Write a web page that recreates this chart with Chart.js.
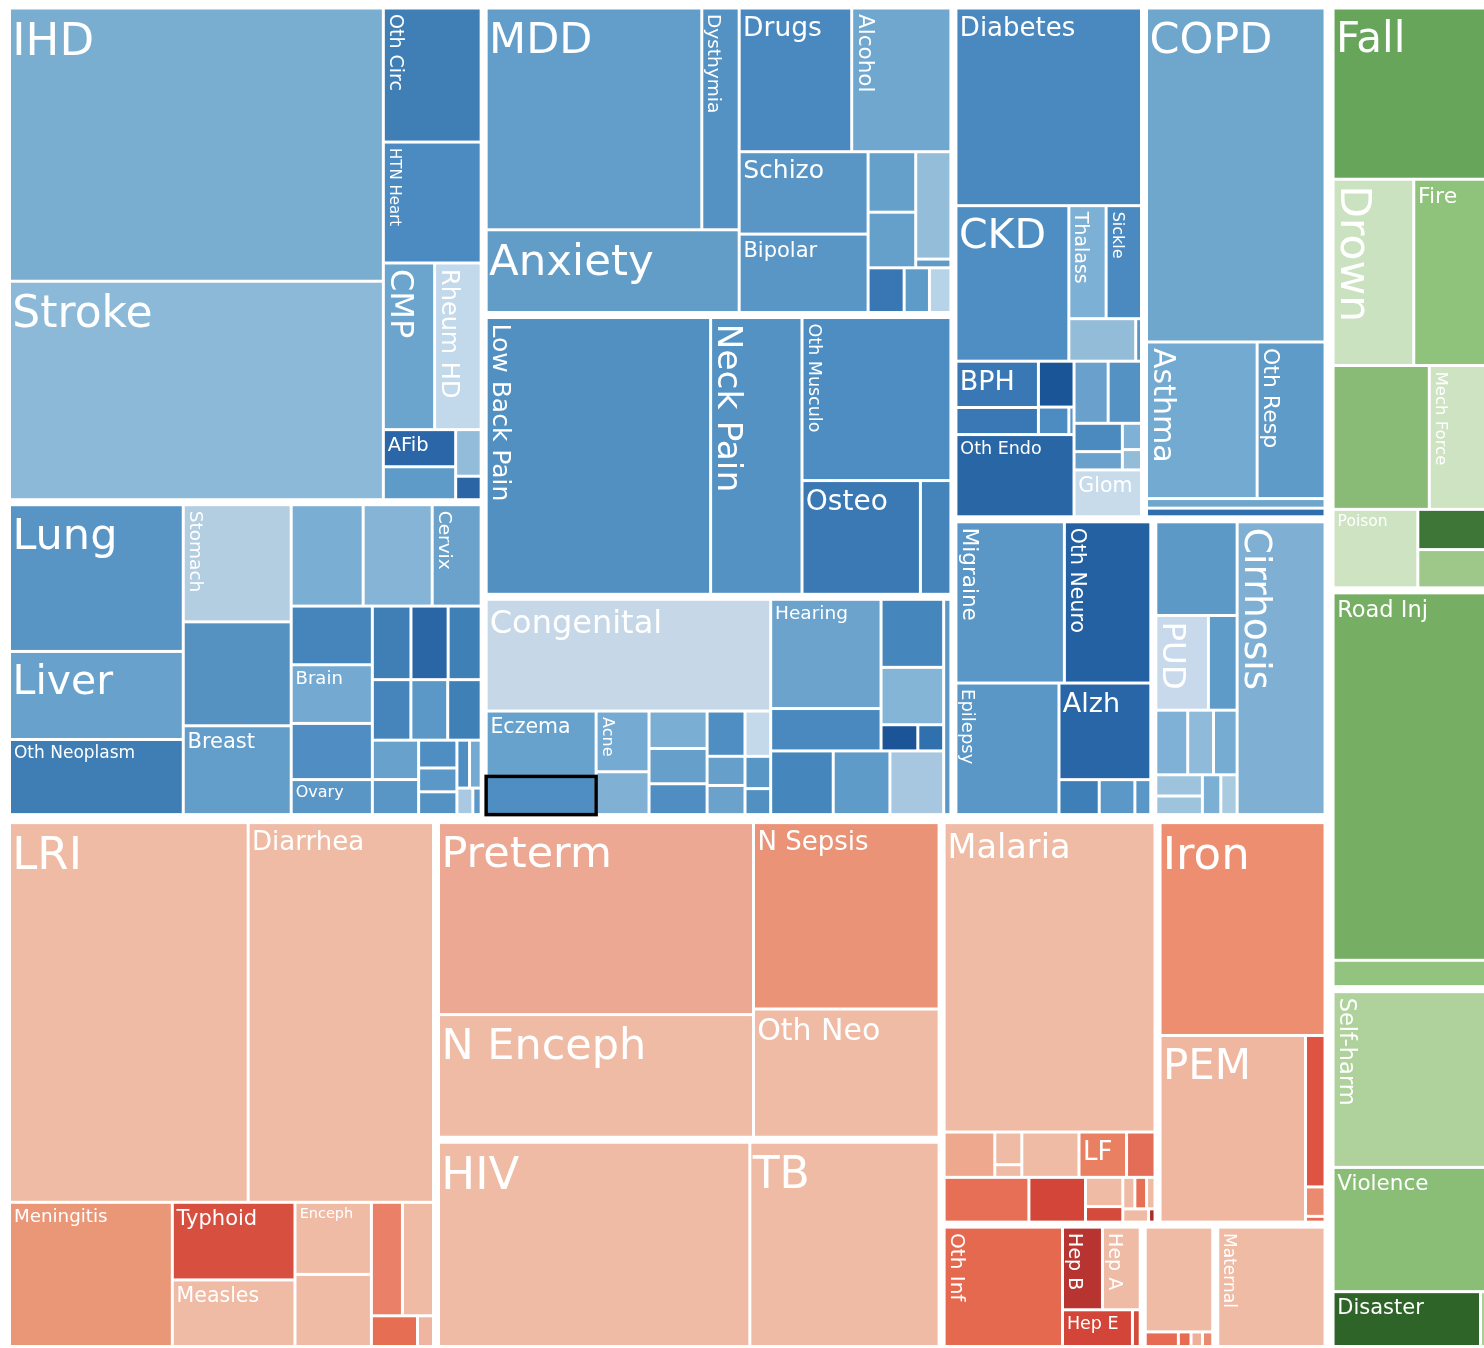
<!DOCTYPE html>
<html>
<head>
<meta charset="utf-8">
<title>Burden treemap</title>
<script src="https://cdn.jsdelivr.net/npm/chart.js@4.4.1/dist/chart.umd.min.js"></script>
<style>
  html, body { margin: 0; padding: 0; background: #fff; overflow: hidden; }
  #chart { display: block; }
</style>
</head>
<body>
<canvas id="chart" width="1510" height="1352"></canvas>
<script>
// ---- cause data: one set of arrays per cause group ----
// tiles: nested splits ('x' = side by side, 'y' = stacked) over leaf indices

// Non-communicable
const cardioNames  = ['IHD', 'Stroke', 'Oth Circ', 'HTN Heart', 'CMP', 'Rheum HD', 'AFib', '', '', ''];
const cardioValues = [1058, 846, 135.8, 122.5, 88.5, 80.3, 27.8, 24.7, 12.3, 6.2];
const cardioColors = ['#79aed1', '#8bb9d7', '#3f7fb6', '#4c8bc1', '#6ba4cd', '#c2d8eb', '#2a66a8', '#5e9bc9', '#93bcda', '#2b65a6'];
const cardioTiles  = ['x', ['y', 0, 1], ['y', 2, 3, ['x', 4, 5], ['x', ['y', 6, 7], ['y', 8, 9]]]];

const neoNames  = ['Lung', 'Liver', 'Oth Neoplasm', 'Stomach', '', 'Breast', '', '', 'Cervix', '', 'Brain', '', 'Ovary',
                   '', '', '', '', '', '', '', '', '', '', '', '', '', '', ''];
const neoValues = [265.6, 159.4, 136, 131.7, 116.9, 99.9, 76, 72.9, 51.7, 49.6, 49.6, 47.5, 29.6,
                   29.6, 28.5, 25.3, 24.3, 23.2, 21.1, 19, 16.9, 11.1, 9.5, 9.1, 6.3, 5.8, 4.4, 2.3];
const neoColors = ['#5895c4', '#67a1cc', '#3e7eb5', '#b3cde1', '#5592c1', '#639dca', '#7aaed3', '#85b4d6', '#6aa2cc',
                   '#4585bb', '#74aad2', '#4f8dc3', '#5995c5',
                   '#3f7fb6', '#2a66a5', '#3f80b7', '#4585bb', '#5c98c7', '#3f80b7', '#68a1cc', '#5995c5',
                   '#4f8ec3', '#5c98c7', '#5592c4', '#4f8ec3', '#74aad1', '#a9c9e2', '#5c98c7'];
const neoTiles  = ['x', ['y', 0, 1, 2], ['y', 3, 4, 5],
                   ['y', ['x', 6, 7, 8],
                         ['x', ['y', 9, 10, 11, 12],
                               ['y', ['x', 13, 14, 15], ['x', 16, 17, 18],
                                     ['x', ['y', 19, 20], ['y', 21, 22, 23], ['y', ['x', 24, 25], ['x', 26, 27]]]]]]];

const mentalNames  = ['MDD', 'Dysthymia', 'Anxiety', 'Drugs', 'Alcohol', 'Schizo', 'Bipolar', '', '', '', '', '', '', ''];
const mentalValues = [498.5, 86.4, 218.2, 168.6, 148.6, 110.7, 105.4, 30, 27.6, 39.4, 3.2, 16.8, 11.8, 10];
const mentalColors = ['#629ec9', '#5592c4', '#629dc8', '#4a89bf', '#6fa7cf', '#5996c6', '#5996c6',
                      '#64a0ca', '#64a0ca', '#93bdd9', '#5f9bc8', '#3877b3', '#5f9bc8', '#b7d3e7'];
const mentalTiles  = ['x', ['y', ['x', 0, 1], 2],
                           ['y', ['x', 3, 4], ['x', ['y', 5, 6], ['y', ['x', ['y', 7, 8], ['y', 9, 10]], ['x', 11, 12, 13]]]]];

const muscNames  = ['Low Back Pain', 'Neck Pain', 'Oth Musculo', 'Osteo', ''];
const muscValues = [648.6, 264.1, 253.5, 140.6, 36.2];
const muscColors = ['#5290c2', '#5592c4', '#4e8dc2', '#3a79b4', '#4484bb'];
const muscTiles  = ['x', 0, 1, ['y', 2, ['x', 3, 4]]];

const otherNcdNames  = ['Congenital', 'Eczema', '', 'Acne', '', '', '', '', '', '', '', '', '', '',
                        'Hearing', '', '', '', '', '', '', '', '', ''];
const otherNcdValues = [333.6, 75.4, 44.1, 33.7, 23.8, 22.8, 21.5, 18.8, 18, 11.6, 11.6, 12.2, 8.7, 7,
                        126.5, 49.1, 44.7, 37.7, 10.1, 7.1, 41.8, 37.9, 35.9, 16.4];
const otherNcdColors = ['#c6d7e8', '#67a2cc', '#4f8ec3', '#75abd2', '#80b1d5', '#7aaed3', '#659fca', '#4f8dc2',
                        '#4f8ec3', '#659fca', '#6aa2cc', '#c4d9ea', '#5896c6', '#5290c2',
                        '#6ba3cc', '#4a89bf', '#4587bd', '#84b4d6', '#1b5597', '#3070ad', '#4587bd', '#5f9bc8', '#a6c7df', '#5c98c7'];
const otherNcdTiles  = ['x', ['y', 0, ['x', ['y', 1, 2], ['y', 3, 4], ['y', 5, 6, 7], ['y', 8, 9, 10], ['y', 11, 12, 13]]],
                             ['y', ['x', ['y', 14, 15], ['y', 16, 17, ['x', 18, 19]]], ['x', 20, 21, 22]],
                             23];

const diabNames  = ['Diabetes', 'CKD', 'Thalass', 'Sickle', '', '', 'BPH', '', '', '', '', 'Oth Endo', '', '', '', '', '', '', 'Glom'];
const diabValues = [386, 184.8, 44.3, 42.1, 29.9, 2.6, 40.2, 23.5, 17.2, 8.8, 1.5, 102.2, 22.3, 21.8, 14.4, 9.3, 5.3, 4.1, 33.3];
const diabColors = ['#4a89bf', '#4f8ec3', '#7db0d5', '#4b8ac0', '#93bcd9', '#5a96c6', '#3978b4', '#3978b4', '#1a5598',
                    '#4d8cc1', '#5a96c6', '#2966a6', '#69a1cc', '#5592c4', '#4b8abf', '#6aa1cc', '#7fb0d5', '#93bcd9', '#c8dbeb'];
const diabTiles  = ['y', 0, ['x', 1, ['y', ['x', 2, 3], ['x', 4, 5]]],
                    ['x', ['y', ['x', ['y', 6, 7], ['y', 8, ['x', 9, 10]]], 11],
                          ['y', ['x', 12, 13], ['x', ['y', 14, 15], ['y', 16, 17]], 18]]];

const respNames  = ['COPD', 'Asthma', 'Oth Resp', '', ''];
const respValues = [628, 182.4, 112, 18, 16.3];
const respColors = ['#6ea6cc', '#73aad1', '#5f9bc8', '#6ea6cc', '#2f6fad'];
const respTiles  = ['y', 0, ['x', 1, 2], 3, 4];

const neuroNames  = ['Migraine', 'Oth Neuro', 'Epilepsy', 'Alzh', '', '', ''];
const neuroValues = [185.1, 147.5, 143.5, 93.9, 14.9, 13.2, 5.9];
const neuroColors = ['#5a97c6', '#2461a3', '#5a97c6', '#2966a7', '#3f7fb7', '#5c98c7', '#5a96c6'];
const neuroTiles  = ['y', ['x', 0, 1], ['x', 2, ['y', 3, ['x', 4, 5, 6]]]];

const digestNames  = ['', 'PUD', '', '', '', '', '', '', '', '', 'Cirrhosis'];
const digestValues = [80.9, 52.9, 28.9, 21.9, 17.7, 16.2, 10.5, 9.2, 7.8, 6.9, 273.5];
const digestColors = ['#5c99c6', '#c7d9ea', '#5e9bc9', '#7fb0d5', '#8fbad9', '#76abd2', '#9ec3dc', '#9ec3dc', '#7bafd3', '#a9cbe0', '#7fb0d4'];
const digestTiles  = ['x', ['y', 0, ['x', 1, 2], ['x', 3, 4, 5], ['x', ['y', 6, 7], 8, 9]], 10];

// Communicable, maternal, neonatal, nutritional
const infNames  = ['LRI', 'Diarrhea', 'Meningitis', 'Typhoid', 'Measles', 'Enceph', '', '', '', '', ''];
const infValues = [940.9, 730.7, 243.8, 98.9, 84.8, 57.2, 57.2, 36.6, 36.6, 14.7, 5.1];
const infColors = ['#efbba5', '#efbba5', '#ea9777', '#d74f3f', '#efbba5', '#efbba5', '#efbba5', '#ea8067', '#efbba5', '#e66e52', '#efb5a0'];
const infTiles  = ['y', ['x', 0, 1], ['x', 2, ['y', 3, 4], ['y', 5, 6], ['y', ['x', 7, 8], ['x', 9, 10]]]];

const neonatalNames  = ['Preterm', 'N Enceph', 'N Sepsis', 'Oth Neo'];
const neonatalValues = [630.8, 402.9, 360.8, 248.3];
const neonatalColors = ['#eca893', '#efbba5', '#ea9377', '#efbba5'];
const neonatalTiles  = ['x', ['y', 0, 1], ['y', 2, 3]];

const hivTbNames  = ['HIV', 'TB'];
const hivTbValues = [668.9, 406.6];
const hivTbColors = ['#efbba5', '#efbba5'];
const hivTbTiles  = ['x', 0, 1];

const ntdNames  = ['Malaria', '', '', '', '', 'LF', '', '', '', '', '', '', '', '', '', ''];
const ntdValues = [687.7, 24.2, 9.3, 3.6, 27.3, 22.7, 13.6, 40, 26.7, 11.5, 6.1, 4, 3.9, 2.8, 3.6, 0.9];
const ntdColors = ['#efbba5', '#eda88e', '#efbba5', '#efbba5', '#efbba5', '#ea8062', '#e46d57', '#e66f55', '#d24538',
                   '#efbba5', '#d44b3b', '#efbba5', '#e66f55', '#efbba5', '#efbba5', '#a82a2a'];
const ntdTiles  = ['y', 0, ['x', 1, ['y', 2, 3], 4, 5, 6], ['x', 7, 8, ['y', 9, 10], ['y', ['x', 11, 12, 13], ['x', 14, 15]]]];

const nutritionNames  = ['Iron', 'PEM', '', '', ''];
const nutritionValues = [372.5, 287.9, 31.4, 6.1, 1.2];
const nutritionColors = ['#ee8e71', '#efb7a0', '#df5343', '#ea8a6e', '#e66c52'];
const nutritionTiles  = ['y', 0, ['x', 1, ['y', 2, 3, 4]]];

const otherInfNames  = ['Oth Inf', 'Hep B', 'Hep A', 'Hep E', ''];
const otherInfValues = [153.5, 35.9, 33.9, 27.9, 3.1];
const otherInfColors = ['#e4694f', '#b73430', '#efbba5', '#d24538', '#d44b3b'];
const otherInfTiles  = ['x', 0, ['y', ['x', 1, 2], ['x', 3, 4]]];

const otherCommNames  = ['', '', '', '', ''];
const otherCommValues = [80.5, 5.5, 2.1, 1.9, 1.7];
const otherCommColors = ['#efbba5', '#e66b52', '#e66b52', '#efb09a', '#ea8a6e'];
const otherCommTiles  = ['y', 0, ['x', 1, 2, 3, 4]];

const maternalNames  = ['Maternal'];
const maternalValues = [142];
const maternalColors = ['#efbba5'];
const maternalTiles  = 0;

// Injuries
const unintNames  = ['Fall', 'Drown', 'Fire', '', 'Mech Force', 'Poison', '', ''];
const unintValues = [302.8, 160.7, 168.7, 148, 106.4, 71.1, 34.7, 33];
const unintColors = ['#66a55a', '#cbe2c0', '#8fc27a', '#89bb77', '#cde3c2', '#cde3c2', '#3e7637', '#9dc889'];
const unintTiles  = ['y', 0, ['x', 1, 2], ['x', 3, 4], ['x', 5, ['y', 6, 7]]];

const transportNames  = ['Road Inj', ''];
const transportValues = [652.4, 46.8];
const transportColors = ['#76ae63', '#93c47f'];
const transportTiles  = ['y', 0, 1];

const violenceNames  = ['Self-harm', 'Violence', 'Disaster', ''];
const violenceValues = [312.5, 220.9, 86.9, 10.6];
const violenceColors = ['#afd29c', '#8abd76', '#2f6428', '#a9cf96'];
const violenceTiles  = ['y', 0, 1, ['x', 2, 3]];

// ---- hierarchy ----
const subgroups = {
  cardio:    { names: cardioNames, values: cardioValues, colors: cardioColors, tiles: cardioTiles },
  neo:       { names: neoNames, values: neoValues, colors: neoColors, tiles: neoTiles },
  mental:    { names: mentalNames, values: mentalValues, colors: mentalColors, tiles: mentalTiles },
  musc:      { names: muscNames, values: muscValues, colors: muscColors, tiles: muscTiles },
  otherNcd:  { names: otherNcdNames, values: otherNcdValues, colors: otherNcdColors, tiles: otherNcdTiles },
  diab:      { names: diabNames, values: diabValues, colors: diabColors, tiles: diabTiles },
  resp:      { names: respNames, values: respValues, colors: respColors, tiles: respTiles },
  neuro:     { names: neuroNames, values: neuroValues, colors: neuroColors, tiles: neuroTiles },
  digest:    { names: digestNames, values: digestValues, colors: digestColors, tiles: digestTiles },
  inf:       { names: infNames, values: infValues, colors: infColors, tiles: infTiles },
  neonatal:  { names: neonatalNames, values: neonatalValues, colors: neonatalColors, tiles: neonatalTiles },
  hivTb:     { names: hivTbNames, values: hivTbValues, colors: hivTbColors, tiles: hivTbTiles },
  ntd:       { names: ntdNames, values: ntdValues, colors: ntdColors, tiles: ntdTiles },
  nutrition: { names: nutritionNames, values: nutritionValues, colors: nutritionColors, tiles: nutritionTiles },
  otherInf:  { names: otherInfNames, values: otherInfValues, colors: otherInfColors, tiles: otherInfTiles },
  otherComm: { names: otherCommNames, values: otherCommValues, colors: otherCommColors, tiles: otherCommTiles },
  maternal:  { names: maternalNames, values: maternalValues, colors: maternalColors, tiles: maternalTiles },
  unint:     { names: unintNames, values: unintValues, colors: unintColors, tiles: unintTiles },
  transport: { names: transportNames, values: transportValues, colors: transportColors, tiles: transportTiles },
  violence:  { names: violenceNames, values: violenceValues, colors: violenceColors, tiles: violenceTiles }
};

const groupTiles = {
  ncd:  ['x', ['y', 'cardio', 'neo'], ['y', 'mental', 'musc', 'otherNcd'],
              ['y', ['x', 'diab', 'resp'], ['x', 'neuro', 'digest']]],
  comm: ['x', 'inf', ['y', 'neonatal', 'hivTb'],
              ['y', ['x', 'ntd', 'nutrition'], ['x', 'otherInf', 'otherComm', 'maternal']]],
  inj:  ['y', 'unint', 'transport', 'violence']
};
const rootTiles = ['x', ['y', 'ncd', 'comm'], 'inj'];

// ---- label styling ----
const labelFont = {
  'IHD': 45, 'Stroke': 44, 'Oth Circ': 19, 'HTN Heart': 15, 'CMP': 32, 'Rheum HD': 24, 'AFib': 19.5,
  'Lung': 43, 'Liver': 41, 'Oth Neoplasm': 17, 'Stomach': 18.5, 'Breast': 21, 'Brain': 18, 'Ovary': 16, 'Cervix': 18.5,
  'MDD': 43, 'Dysthymia': 18.5, 'Anxiety': 43.5, 'Drugs': 26.5, 'Alcohol': 21.5, 'Schizo': 25, 'Bipolar': 21,
  'Low Back Pain': 25, 'Neck Pain': 34.5, 'Oth Musculo': 17.5, 'Osteo': 28,
  'Congenital': 32, 'Eczema': 20.5, 'Acne': 16, 'Hearing': 18.5,
  'Diabetes': 26, 'CKD': 41, 'Thalass': 19, 'Sickle': 16, 'BPH': 27, 'Oth Endo': 17.5, 'Glom': 20.5,
  'COPD': 43, 'Asthma': 30, 'Oth Resp': 22,
  'Migraine': 21.5, 'Oth Neuro': 20.5, 'Epilepsy': 18, 'Alzh': 27, 'PUD': 32.5, 'Cirrhosis': 37.5,
  'LRI': 45, 'Diarrhea': 26, 'Meningitis': 18.3, 'Typhoid': 21, 'Measles': 20.5, 'Enceph': 14.5,
  'Preterm': 43, 'N Enceph': 43, 'N Sepsis': 26, 'Oth Neo': 30, 'HIV': 45, 'TB': 44,
  'Malaria': 33.5, 'LF': 26, 'Iron': 45, 'PEM': 42, 'Oth Inf': 20, 'Hep B': 19, 'Hep A': 19, 'Hep E': 17.5, 'Maternal': 17,
  'Fall': 42, 'Drown': 42.5, 'Fire': 22, 'Mech Force': 16.5, 'Poison': 15.5, 'Road Inj': 22.5,
  'Self-harm': 22.5, 'Violence': 21.5, 'Disaster': 21
};
const verticalLabels = ['Oth Circ', 'HTN Heart', 'CMP', 'Rheum HD', 'Stomach', 'Cervix', 'Dysthymia', 'Alcohol',
  'Low Back Pain', 'Neck Pain', 'Oth Musculo', 'Acne', 'Thalass', 'Sickle', 'Asthma', 'Oth Resp', 'Migraine',
  'Oth Neuro', 'Epilepsy', 'PUD', 'Cirrhosis', 'Oth Inf', 'Hep B', 'Hep A', 'Maternal', 'Drown', 'Mech Force', 'Self-harm'];
const selectedCell = { group: 'otherNcd', index: 2 };

const GROUP_PAD = 1.5, SUB_PAD = 2.5, LEAF_PAD = 1.5;

// ---- layout helpers ----
function specTotal(spec, valueOf) {
  if (Array.isArray(spec)) return spec.slice(1).reduce((s, c) => s + specTotal(c, valueOf), 0);
  return valueOf(spec);
}

function tile(spec, rect, valueOf, place) {
  if (!Array.isArray(spec)) { place(spec, rect); return; }
  const dir = spec[0];
  const kids = spec.slice(1);
  const total = kids.reduce((s, k) => s + specTotal(k, valueOf), 0);
  let pos = dir === 'x' ? rect.x0 : rect.y0;
  kids.forEach(k => {
    const share = specTotal(k, valueOf) / total;
    if (dir === 'x') {
      const w = (rect.x1 - rect.x0) * share;
      tile(k, { x0: pos, x1: pos + w, y0: rect.y0, y1: rect.y1 }, valueOf, place);
      pos += w;
    } else {
      const h = (rect.y1 - rect.y0) * share;
      tile(k, { x0: rect.x0, x1: rect.x1, y0: pos, y1: pos + h }, valueOf, place);
      pos += h;
    }
  });
}

const inset = (r, d) => ({ x0: r.x0 + d, y0: r.y0 + d, x1: r.x1 - d, y1: r.y1 - d });
const subTotal = key => subgroups[key].values.reduce((a, b) => a + b, 0);
const groupTotal = key => specTotal(groupTiles[key], subTotal);

function buildCells(root) {
  const cells = [];
  tile(rootTiles, root, groupTotal, (g, gr) => {
    tile(groupTiles[g], inset(gr, GROUP_PAD), subTotal, (s, sr) => {
      const sub = subgroups[s];
      tile(sub.tiles, inset(sr, SUB_PAD), i => sub.values[i], (i, lr) => {
        cells.push({ rect: inset(lr, LEAF_PAD), name: sub.names[i], color: sub.colors[i], group: s, index: i });
      });
    });
  });
  return cells;
}

function drawLabel(ctx, cell) {
  const size = labelFont[cell.name];
  if (!cell.name || !size) return;
  const r = cell.rect;
  ctx.save();
  ctx.beginPath();
  ctx.rect(r.x0, r.y0, r.x1 - r.x0, r.y1 - r.y0);
  ctx.clip();
  ctx.fillStyle = '#ffffff';
  ctx.font = size + 'px "DejaVu Sans", Verdana, sans-serif';
  ctx.textBaseline = 'alphabetic';
  ctx.textAlign = 'left';
  if (verticalLabels.includes(cell.name)) {
    ctx.translate(r.x0 + 4 + 0.06 * size, r.y0 + 4.5);
    ctx.rotate(Math.PI / 2);
    ctx.fillText(cell.name, 0, 0);
  } else {
    ctx.fillText(cell.name, r.x0 + 4 - 0.06 * size, r.y0 + size);
  }
  ctx.restore();
}

const treemapPlugin = {
  id: 'burdenTreemap',
  afterDatasetsDraw(chart) {
    const { ctx, scales: { x, y } } = chart;
    const root = {
      x0: x.getPixelForValue(0), x1: x.getPixelForValue(100),
      y0: y.getPixelForValue(0), y1: y.getPixelForValue(100)
    };
    const cells = buildCells(root);
    ctx.save();
    cells.forEach(c => {
      ctx.fillStyle = c.color;
      ctx.fillRect(c.rect.x0, c.rect.y0, c.rect.x1 - c.rect.x0, c.rect.y1 - c.rect.y0);
    });
    cells.forEach(c => drawLabel(ctx, c));
    const sel = cells.find(c => c.group === selectedCell.group && c.index === selectedCell.index);
    if (sel) {
      const r = inset(sel.rect, -LEAF_PAD);
      ctx.strokeStyle = '#000000';
      ctx.lineWidth = 3.5;
      ctx.strokeRect(r.x0, r.y0, r.x1 - r.x0, r.y1 - r.y0);
    }
    ctx.restore();
  }
};

new Chart(document.getElementById('chart'), {
  type: 'scatter',
  data: { datasets: [] },
  options: {
    responsive: false,
    animation: false,
    events: [],
    layout: { padding: { left: 5.5, top: 4, right: 7.5, bottom: 1.5 } },
    plugins: { legend: { display: false }, tooltip: { enabled: false } },
    scales: {
      x: { type: 'linear', min: 0, max: 100, display: false },
      y: { type: 'linear', min: 0, max: 100, reverse: true, display: false }
    }
  },
  plugins: [treemapPlugin]
});
</script>
</body>
</html>
